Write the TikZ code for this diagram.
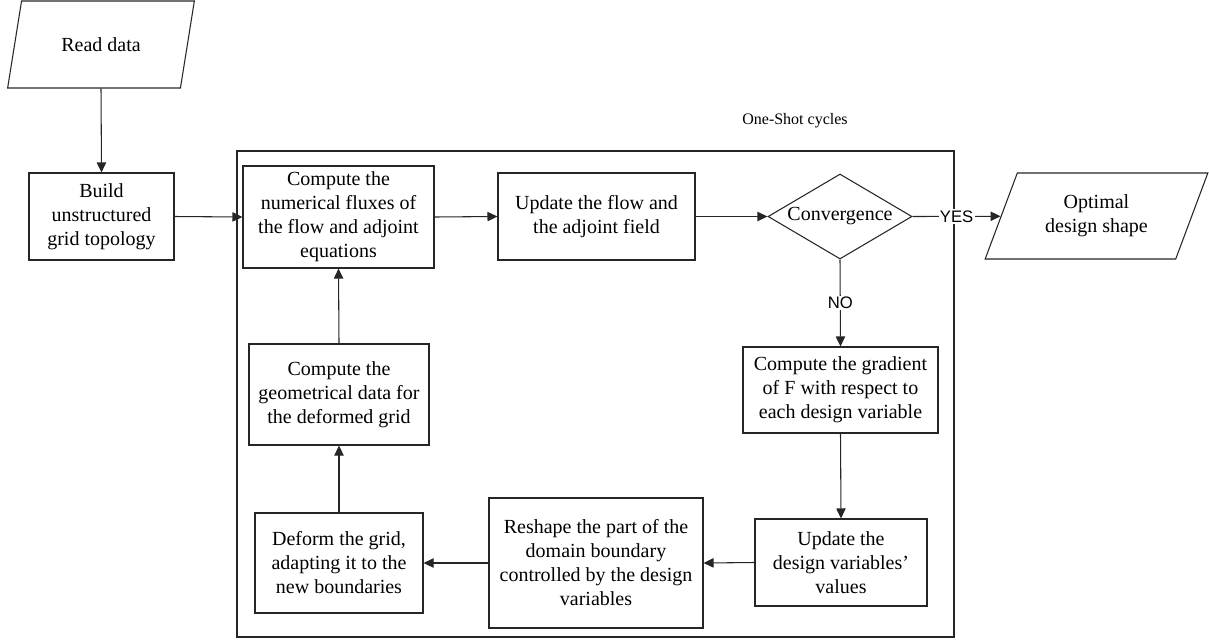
\documentclass[tikz,border=0pt]{standalone}
\usepackage{fontspec}
\setmainfont{Liberation Serif}
\newfontfamily\labelfont{Liberation Sans}
\usetikzlibrary{arrows.meta,shapes.geometric}
\tikzset{
  box/.style={draw=black!85, line width=0.8pt, rectangle, align=center, inner sep=0pt,
    font=\fontsize{15}{18}\selectfont},
  para/.style={draw=black!85, line width=0.8pt, trapezium, trapezium stretches=true,
    trapezium left angle=63.7, trapezium right angle=116.3, align=center, inner sep=0pt,
    font=\fontsize{15}{18}\selectfont},
  cond/.style={draw=black!85, line width=0.8pt, diamond, aspect=1.7, inner sep=0pt,
    font=\fontsize{15}{18}\selectfont},
  conn/.style={draw=black!85, line width=0.8pt, -{Triangle[length=7.5pt,width=7pt]}},
  lbl/.style={fill=white, inner sep=1pt, font=\labelfont\fontsize{12.5}{14}\selectfont},
}
\begin{document}
\begin{tikzpicture}[x=0.75pt,y=-0.75pt]
\useasboundingbox (0,0) rectangle (1209,643);
% outer frame
\node[draw=black!85, line width=0.8pt, minimum width=537.75pt, minimum height=364.5pt, inner sep=0pt] (frame) at (595.5,394) {};
\node[font=\fontsize{12}{14}\selectfont, inner sep=0pt] (cyc) at (795,121) {One-Shot cycles};

\node[para, minimum width=141pt, minimum height=65.25pt] (read) at (101,44.5) {Read data};
\node[box, minimum width=108.75pt, minimum height=65.25pt] (build) at (101.5,216.5) {Build\\unstructured\\grid topology};
\node[box, minimum width=143.25pt, minimum height=76.5pt] (flux) at (338.5,217) {Compute the\\numerical fluxes of\\the flow and adjoint\\equations};
\node[box, minimum width=147.75pt, minimum height=65.25pt] (updflow) at (596.5,216.5) {Update the flow and\\the adjoint field};
\node[cond, minimum width=108pt, minimum height=63.75pt] (conv) at (840,216.5) {Convergence};
\node[para, minimum width=167.25pt, minimum height=64.5pt] (opt) at (1096.5,216) {Optimal\\design shape};
\node[box, minimum width=146.25pt, minimum height=64.5pt] (grad) at (840.5,390) {Compute the gradient\\of F with respect to\\each design variable};
\node[box, minimum width=129pt, minimum height=65.25pt] (upd) at (841,562.5) {Update the\\design variables'\\values};
\node[box, minimum width=160.5pt, minimum height=97.5pt] (reshape) at (596,563) {Reshape the part of the\\domain boundary\\controlled by the design\\variables};
\node[box, minimum width=126pt, minimum height=75pt] (deform) at (339,563) {Deform the grid,\\adapting it to the\\new boundaries};
\node[box, minimum width=135pt, minimum height=75.75pt] (geom) at (339,394.5) {Compute the\\geometrical data for\\the deformed grid};

\draw[conn] (read.south) -- (build.north);
\draw[conn] (build.east) -- (flux.west);
\draw[conn] (flux.east) -- (updflow.west);
\draw[conn] (updflow.east) -- (conv.west);
\draw[conn] (conv.east) -- node[lbl] {YES} (opt);
\draw[conn] (conv.south) -- node[lbl] {NO} (grad.north);
\draw[conn] (grad.south) -- (upd.north);
\draw[conn] (upd.west) -- (reshape.east);
\draw[conn] (reshape.west) -- (deform.east);
\draw[conn] (deform.north) -- (geom.south);
\draw[conn] (geom.north) -- (flux.south);
\end{tikzpicture}
\end{document}
